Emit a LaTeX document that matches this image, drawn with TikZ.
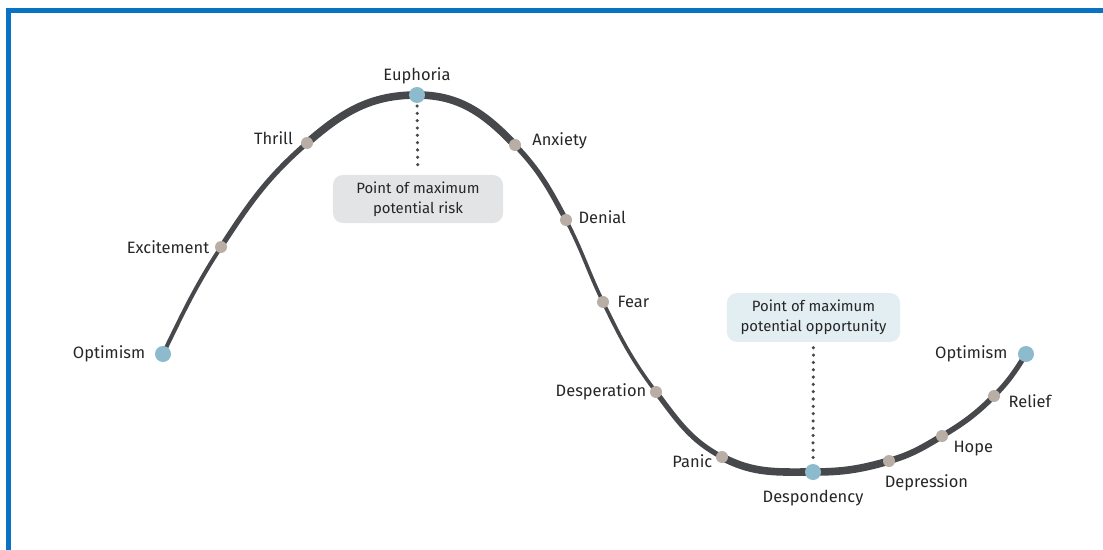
\documentclass[tikz,border=0pt]{standalone}
\usepackage{fontspec}
\setmainfont{Fira Sans}
\usetikzlibrary{positioning,backgrounds}
\definecolor{frameblue}{HTML}{0A72C2}
\definecolor{curvegray}{HTML}{46484C}
\definecolor{dotblue}{HTML}{8DBACD}
\definecolor{dottaupe}{HTML}{B8AEA5}
\definecolor{riskfill}{HTML}{E3E4E5}
\definecolor{oppfill}{HTML}{E3EEF3}
\definecolor{textgray}{HTML}{262626}
\tikzset{
    stage/.style={circle,fill=dottaupe,inner sep=0pt,minimum size=0.3cm},
    key stage/.style={stage,fill=dotblue,minimum size=0.4cm},
    stage label/.style={text=textgray,inner sep=0pt,
        font=\fontsize{11.7}{13}\selectfont},
    note/.style={rounded corners=7pt,text=textgray,align=center,
        inner sep=0pt,font=\fontsize{10.6}{14.5}\selectfont},
    curve/.style={curvegray,line cap=round},
    guide/.style={curvegray,line width=2.5pt,line cap=round,
        dash pattern=on 0pt off 5.2pt},
}
\begin{document}
\begin{tikzpicture}[x=0.025cm,y=0.025cm]
    \clip (0,0) rectangle (1103,-550);
    \draw[frameblue,line width=0.13cm] (1120,-10.5) -| (8.5,-570);

    \node[note,fill=riskfill,minimum width=4.25cm,minimum height=1.2cm] (risk) at (418,-199)
        {Point of maximum\\potential risk};
    \node[note,fill=oppfill,minimum width=4.33cm,minimum height=1.22cm] (opp) at (813.5,-317.5)
        {Point of maximum\\potential opportunity};

    \foreach \name/\x/\y in {opt/163/354,eup/417/95,dsp/813/472,optb/1026/354}
        \node[key stage] (\name) at (\x,-\y) {};
    \foreach \name/\x/\y in {exc/221/247,thr/307/143,anx/515/145,den/566/220,fear/603/302,
        desp/656/392,pan/722/457,depr/889/461,hope/942/436,rel/994/396}
        \node[stage] (\name) at (\x,-\y) {};

    \begin{scope}[on background layer]
        \foreach \a/\b/\o/\i/\w in {opt/exc/64/57/0.1,exc/thr/57/41/0.13,thr/eup/41/0/0.19,
            eup/anx/0/-46/0.19,anx/den/-46/-62/0.13,den/fear/-62/-64/0.09,fear/desp/-64/-53/0.09,
            desp/pan/-53/-28/0.13,pan/dsp/-28/0/0.19,dsp/depr/0/16/0.19,depr/hope/16/31/0.16,
            hope/rel/31/45/0.14,rel/optb/45/58/0.13}
            \draw[curve,line width=\w cm] (\a.center) to[out=\o,in=\i+180] (\b.center);
        \draw[guide,shorten <=2pt,shorten >=4pt] (eup) -- (risk);
        \draw[guide,shorten <=4pt,shorten >=2pt] (opp) -- (dsp);
    \end{scope}

    \node[stage label,left=0.23cm of opt] (opt text) {Optimism};
    \node[stage label,left=0.13cm of exc] (exc text) {Excitement};
    \node[stage label,left=0.19cm of thr,yshift=0.12cm] (thr text) {Thrill};
    \node[stage label,above=0.05cm of eup] (eup text) {Euphoria};
    \node[stage label,right=0.27cm of anx,yshift=0.11cm] (anx text) {Anxiety};
    \node[stage label,right=0.15cm of den,yshift=0.06cm] (den text) {Denial};
    \node[stage label,right=0.2cm of fear] (fear text) {Fear};
    \node[stage label,left=0.08cm of desp] (desp text) {Desperation};
    \node[stage label,left=0.08cm of pan,yshift=-0.1cm] (pan text) {Panic};
    \node[stage label,below=0.25cm of dsp] (dsp text) {Despondency};
    \node[stage label,below=0.22cm of depr.south west,anchor=north west] (depr text) {Depression};
    \node[stage label,below right=0cm and 0.17cm of hope] (hope text) {Hope};
    \node[stage label,right=0.2cm of rel,yshift=-0.14cm] (rel text) {Relief};
    \node[stage label,left=0.25cm of optb] (optb text) {Optimism};
\end{tikzpicture}
\end{document}
